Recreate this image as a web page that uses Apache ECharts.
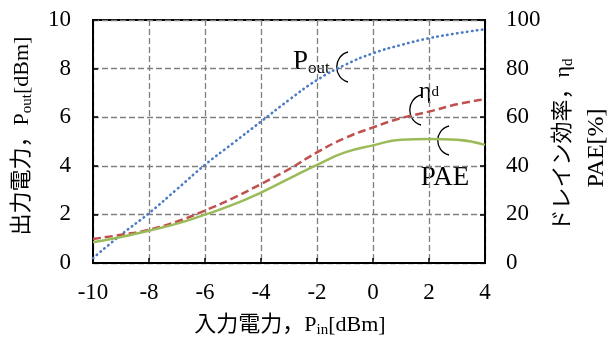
<!DOCTYPE html>
<html><head><meta charset="utf-8">
<script src="https://cdn.jsdelivr.net/npm/echarts@6/dist/echarts.min.js"></script>
<style>html,body{margin:0;padding:0;background:#fff}#c{width:608px;height:340px}</style>
</head><body><div id="c"></div>
<script>
const xValues = [-10,-9,-8,-7,-6,-5,-4,-3,-2,-1,0,1,2,3,4];
const poutValues = [0.2,1.16,2.05,3.04,4.04,4.93,5.82,6.71,7.53,8.15,8.63,8.97,9.25,9.45,9.62];
const etaValues = [9.9,11.6,13.7,17.1,21.6,26.7,32.5,38.6,45.5,51.4,55.8,59.6,62.3,65.3,67.4];
const paeValues = [8.5,10.7,13.3,16.2,19.9,24.0,29.0,34.7,40.4,45.5,48.4,50.7,51.0,50.7,48.6];

const serif = 'Liberation Serif';
const chart = echarts.init(document.getElementById('c'));
const pair = (xs, ys) => xs.map((x, i) => [x, ys[i]]);
const lbl = {fontFamily: serif, fontSize: 23, color: '#000'};

function rt(x, y, rot, text, rich, align) {
  return {type: 'text', x: x, y: y, rotation: rot,
    style: {text: text, rich: rich, align: align || 'center', textAlign: align || 'center',
      verticalAlign: 'middle', textVerticalAlign: 'middle', fill: '#000'}};
}
const cjk = '"Liberation Serif","Noto Sans CJK JP",serif';
const richMain = {a: {fontFamily: cjk, fontSize: 22, color: '#000', lineHeight: 26, verticalAlign: 'middle'},
                  s: {fontFamily: serif, fontSize: 15, color: '#000', lineHeight: 26, verticalAlign: 'bottom'}};
const richAnn = {a: {fontFamily: serif, fontSize: 27, color: '#000', lineHeight: 30, verticalAlign: 'middle'},
                 s: {fontFamily: serif, fontSize: 17, color: '#000', lineHeight: 30, verticalAlign: 'bottom'}};
const richEta = {a: {fontFamily: serif, fontSize: 24, color: '#000', lineHeight: 26, verticalAlign: 'middle'},
                 s: {fontFamily: serif, fontSize: 15, color: '#000', lineHeight: 26, verticalAlign: 'middle'}};
const richPae = {a: {fontFamily: serif, fontSize: 24, color: '#000', lineHeight: 26, verticalAlign: 'middle'}};

function bracket(x1, y1, cx, y2) {
  return {type: 'bezierCurve', shape: {x1: x1, y1: y1, cpx1: cx, cpy1: y1 + 4, cpx2: cx, cpy2: y2 - 4, x2: x1, y2: y2},
    style: {stroke: '#000', lineWidth: 1.3, fill: null}};
}
const grid = {color: '#7f7f7f', type: [6, 3], width: 1.3};

chart.setOption({
  animation: false,
  grid: {left: 93, right: 123, top: 20, bottom: 77, show: true, borderColor: '#000', borderWidth: 2},
  xAxis: {type: 'value', min: -10, max: 4, interval: 2,
    axisLine: {onZero: false, lineStyle: {color: '#000', width: 2}},
    axisTick: {inside: true, length: 5, lineStyle: {color: '#000', width: 1.5}},
    axisLabel: {...lbl, margin: 18},
    splitLine: {show: true, lineStyle: grid}},
  yAxis: [
    {type: 'value', min: 0, max: 10, interval: 2,
      axisLine: {show: true, onZero: false, lineStyle: {color: '#000', width: 2}},
      axisTick: {show: true, inside: true, length: 5, lineStyle: {color: '#000', width: 1.5}},
      axisLabel: {...lbl, margin: 22},
      splitLine: {show: true, lineStyle: grid}},
    {type: 'value', min: 0, max: 100, interval: 20, position: 'right',
      axisLine: {show: true, onZero: false, lineStyle: {color: '#000', width: 2}},
      axisTick: {show: true, inside: true, length: 5, lineStyle: {color: '#000', width: 1.5}},
      axisLabel: {...lbl, margin: 21},
      splitLine: {show: false}}
  ],
  series: [
    {type: 'line', name: 'Pout', yAxisIndex: 0, data: pair(xValues, poutValues), smooth: true, symbol: 'none',
      lineStyle: {color: '#4a7bc4', width: 2.6, type: [0.5, 4.5], cap: 'round'}},
    {type: 'line', name: 'eta', yAxisIndex: 1, data: pair(xValues, etaValues), smooth: true, symbol: 'none',
      lineStyle: {color: '#c0504d', width: 2.5, type: [8, 4]}},
    {type: 'line', name: 'PAE', yAxisIndex: 1, data: pair(xValues, paeValues), smooth: true, symbol: 'none',
      lineStyle: {color: '#9bbb59', width: 2.5}}
  ],
  graphic: [
    rt(22, 136, Math.PI / 2, '{a|出力電力，P}{s|out}{a|[dBm]}', richMain),
    rt(563, 145, Math.PI / 2, '{a|ドレイン効率，η}{s|d}', richMain),
    rt(597, 148, Math.PI / 2, '{a|PAE[%]}', richPae),
    rt(290, 325, 0, '{a|入力電力，P}{s|in}{a|[dBm]}', richMain),
    rt(293, 62, 0, '{a|P}{s|out}', richAnn, 'left'),
    rt(419, 92, 0, '{a|η}{s|d}', richEta, 'left'),
    rt(445, 178, 0, '{a|PAE}', richAnn),
    bracket(348, 52, 333, 82),
    bracket(421, 95, 406, 125),
    bracket(449, 126, 434, 155)
  ]
});
</script></body></html>
